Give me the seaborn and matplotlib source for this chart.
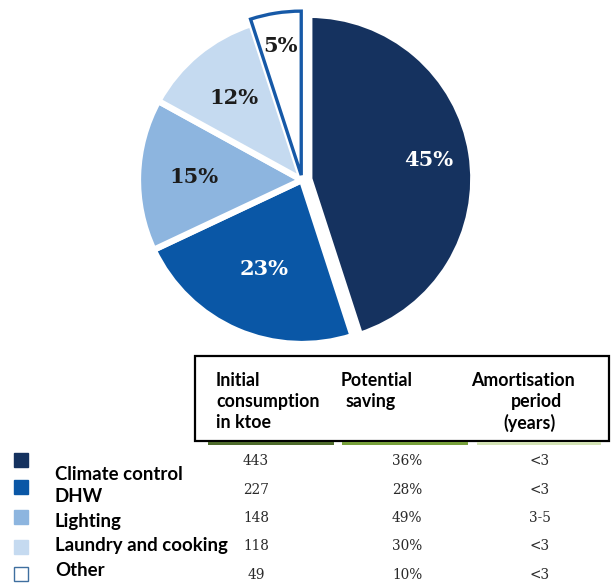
import matplotlib
matplotlib.use("Agg")
import matplotlib.pyplot as plt
import matplotlib.patches as mpatches
import numpy as np
import seaborn as sns

# Shares of household energy use by end use
categories = ["Climate control", "DHW", "Lighting", "Laundry and cooking", "Other"]
shares = [45, 23, 15, 12, 5]
colors = ["#15325f", "#0a57a6", "#8db5df", "#c5daf0", "#ffffff"]

# Table columns
consumption_ktoe = ["443", "227", "148", "118", "49"]
potential_saving = ["36%", "28%", "49%", "30%", "10%"]
amortisation = ["<3", "<3", "3-5", "<3", "<3"]
headers = [
    ["Initial", "consumption", "in ktoe"],
    ["Potential", "saving"],
    ["Amortisation", "period", "(years)"],
]

sns.set_theme(style="white")
plt.rcParams["font.family"] = ["Lato", "DejaVu Sans"]

W, H = 612, 583
fig = plt.figure(figsize=(W / 100, H / 100), dpi=100)
fig.patch.set_facecolor("white")

# Overlay in pixel coordinates for the table and legend
ov = fig.add_axes([0, 0, 1, 1])
ov.set_xlim(0, W)
ov.set_ylim(H, 0)
ov.axis("off")

# Pie axes
R = 164
cx, cy = 302, 180
span = 2.2 * R
pax = fig.add_axes([(cx - span / 2) / W, (H - cy - span / 2) / H, span / W, span / H])

explode = [0.045, 0, 0, 0, 0.03]
wedges, _ = pax.pie(
    shares, colors=colors, startangle=90, counterclock=False, explode=explode,
    wedgeprops=dict(edgecolor="white", linewidth=4.5),
)
pax.set_xlim(-1.1, 1.1)
pax.set_ylim(-1.1, 1.1)
pax.set_aspect("equal")
pax.axis("off")
wedges[-1].set_edgecolor("#1659a7")
wedges[-1].set_linewidth(2.4)

label_r = [0.78, 0.59, 0.66, 0.65, 0.83]
label_c = ["white", "white", "#1c1c1c", "#1c1c1c", "#1c1c1c"]
for w, v, r, c in zip(wedges, shares, label_r, label_c):
    ang = np.deg2rad((w.theta1 + w.theta2) / 2)
    pax.text(r * np.cos(ang), r * np.sin(ang), f"{v}%", ha="center", va="center",
             color=c, fontsize=15, fontweight="bold", family="DejaVu Serif")

# Table header box
ov.add_patch(mpatches.Rectangle((195, 356), 414, 85, fill=False, edgecolor="black",
                                linewidth=1.6))
header_pos = [
    [(216, "left"), (216, "left"), (216, "left")],
    [(341, "left"), (346, "left")],
    [(471, "left"), (536, "center"), (530, "center")],
]
header_y = [380, 401, 423]
for lines, pos in zip(headers, header_pos):
    for line, (x, ha), y in zip(lines, pos, header_y):
        ov.text(x, y, line, ha=ha, va="center", fontsize=12.8, fontweight="bold",
                color="black")

# Green rules under the header
for x0, x1, c in [(208, 334, "#4e6b2b"), (342, 468, "#77a03a"), (477, 601, "#d3e2b4")]:
    ov.add_patch(mpatches.Rectangle((x0, 441.5), x1 - x0, 3, color=c, linewidth=0))

# Table values
row_y = [461, 490, 518, 546, 575]
col_x = [256, 407, 540]
for col, x in zip([consumption_ktoe, potential_saving, amortisation], col_x):
    for val, y in zip(col, row_y):
        ov.text(x, y, val, ha="center", va="center", fontsize=9.8, color="#2a2a2a",
                family="DejaVu Serif")

# Legend
square_y = [460, 487, 517, 547, 574]
label_y = [474, 497, 521, 546, 571]
for cat, c, sy, ly in zip(categories, colors, square_y, label_y):
    edge = "#3f6f9f" if c == "#ffffff" else c
    ov.add_patch(mpatches.Rectangle((14, sy - 7), 14, 14, facecolor=c, edgecolor=edge,
                                    linewidth=1.0))
    ov.text(55, ly, cat, ha="left", va="center", fontsize=13.4, fontweight="bold",
            color="black")

fig.savefig("out.png", dpi=100, facecolor="white")
